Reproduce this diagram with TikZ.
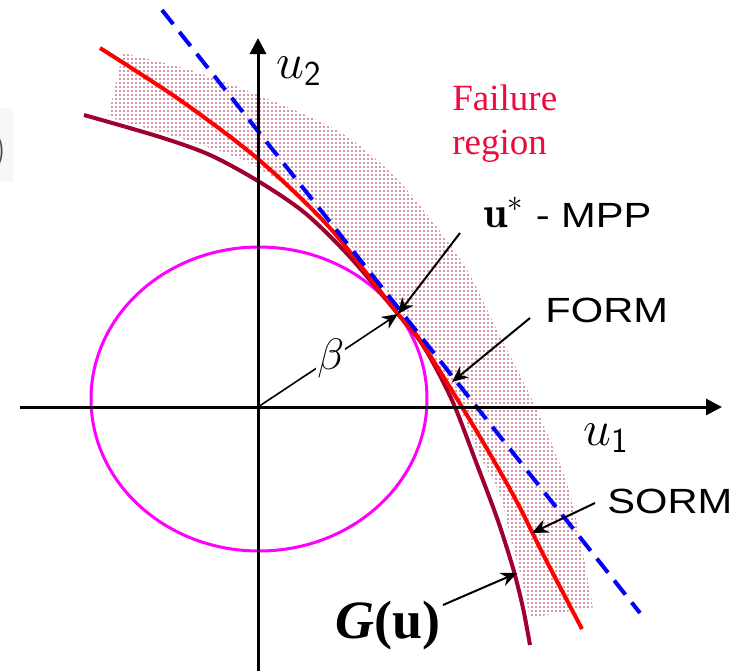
\RequirePackage{fix-cm}
\documentclass[tikz,border=0pt]{standalone}
\usepackage{amsmath}
\usepackage{fontspec}
\newfontfamily\helvfont[FakeStretch=1.19]{Liberation Sans}
\newfontfamily\timesfont{Liberation Serif}
\usetikzlibrary{arrows.meta,patterns.meta}
\definecolor{gcurve}{RGB}{160,0,45}
\definecolor{dotred}{RGB}{175,45,85}
\definecolor{failred}{RGB}{240,10,60}
\definecolor{circmag}{RGB}{255,0,255}

\begin{document}
\begin{tikzpicture}[x=0.5pt, y=-0.5pt, >={Stealth[length=8pt,width=7pt]},
    axis/.style={line width=1.5pt, -{Triangle[length=8pt,width=8pt]}},
    pointer/.style={line width=1pt, ->},
    sanslbl/.style={font=\helvfont\fontsize{17.5}{21}\selectfont, inner sep=0pt}]
    \useasboundingbox (0,0) rectangle (740,671);

    % cut-off bracket at the left edge
    \fill[gray!6] (0,108) rectangle (13,182);
    \node[gray!60!black, anchor=east, inner sep=0pt, font=\fontsize{20}{24}\selectfont] (cut) at (7,152) {)};

    % failure region (dotted band)
    \path[pattern={Dots[distance=2pt,radius=0.45pt]}, pattern color=dotred]
        plot[smooth] coordinates {(123,53) (190,70) (258,95) (340,132) (400,182) (463,263) (497,330) (537,410) (570,493) (593,607)}
        -- plot[smooth] coordinates {(530,618) (522,580) (511,540) (500,495) (477,450) (461,410) (440,372) (398,308) (350,245) (300,196) (253,165) (217,150) (170,135) (108,117)}
        -- cycle;

    % beta circle
    \draw[circmag, line width=1.5pt] (259,399) ellipse [x radius=168, y radius=152];

    % limit state G(u), SORM and FORM approximations
    \draw[gcurve, line width=2pt] plot[smooth] coordinates {(84,115) (160,137) (210,155) (258,181) (305,213) (350,257) (398,314) (420,341) (437,370) (455,407) (476,462) (497,518) (513,568) (523,608) (530,645)};
    \draw[red, line width=2pt] plot[smooth] coordinates {(100,48) (180,100) (258,159) (330,228) (398,314) (420,340) (462,407) (490,454) (517,502) (545,558) (582,629)};
    \draw[blue, line width=2pt, dash pattern=on 9pt off 5pt] (162,10) -- (640,613);

    % axes
    \coordinate (O) at (258,407);
    \draw[axis] (20,407) -- (722,407);
    \draw[axis] (258,671) -- (258,38);
    \node[font=\fontsize{25}{30}\selectfont] (u2) at (299,71) {$u_{\textsf{2}}$};
    \node[font=\fontsize{25}{30}\selectfont] (u1) at (606,438) {$u_{\textsf{1}}$};

    % labels
    \node[anchor=north west, inner sep=0pt, align=left, text=failred,
          font=\timesfont\fontsize{18.5}{22}\selectfont] (fail) at (452,84) {Failure\\region};
    \node[sanslbl, anchor=base west] (mpplbl) at (483,227) {{\fontsize{22}{26}\selectfont$\mathbf{u}^{*}$}\ - MPP};
    \node[sanslbl, anchor=base west] (formlbl) at (545,322) {FORM};
    \node[sanslbl, anchor=base west] (sormlbl) at (607,513) {SORM};
    \node[anchor=base west, inner sep=0pt, font=\timesfont\fontsize{27}{32}\selectfont\bfseries] (glbl) at (335,638) {\textit{G}(u)};

    % points and arrows
    \coordinate (mpp) at (398,314);
    \coordinate (formpt) at (452,382);
    \coordinate (sormpt) at (532,533);
    \coordinate (gpt) at (517,573);
    \coordinate (mpptail) at (460,233);
    \coordinate (formtail) at (530,318);
    \coordinate (sormtail) at (595,503);
    \coordinate (gtail) at (443,605);
    \draw[line width=0.8pt, ->] (O) -- node[pos=0.52, fill=white, inner sep=0.5pt, font=\fontsize{22}{26}\selectfont] (beta) {$\beta$} (mpp);
    \draw[pointer] (mpptail) -- (mpp);
    \draw[pointer] (formtail) -- (formpt);
    \draw[pointer] (sormtail) -- (sormpt);
    \draw[pointer] (gtail) -- (gpt);
\end{tikzpicture}
\end{document}
